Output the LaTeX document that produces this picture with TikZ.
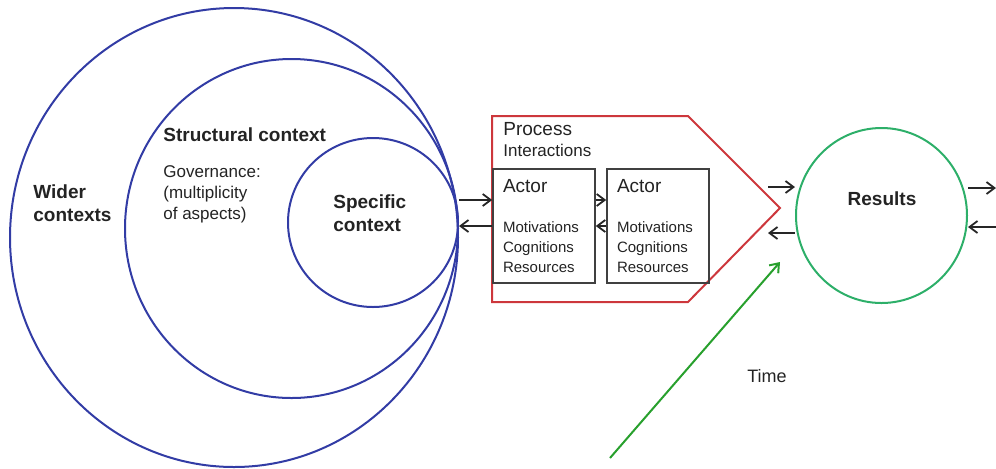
\documentclass[tikz,border=0pt]{standalone}
\usepackage{fontspec}
\setmainfont{Liberation Sans}
\usetikzlibrary{arrows.meta,shapes.geometric}
\definecolor{ringblue}{RGB}{50,60,165}
\definecolor{procred}{RGB}{205,55,60}
\definecolor{resgreen}{RGB}{45,175,105}
\definecolor{timegreen}{RGB}{40,160,45}
\definecolor{txt}{RGB}{35,35,35}
\begin{document}
\begin{tikzpicture}[x=0.5pt,y=-0.5pt,>={Straight Barb[length=4pt,width=6pt]},
	ring/.style={draw=ringblue,line width=1pt,ellipse,inner sep=0pt},
	actor/.style={draw=black!75,line width=0.8pt,minimum width=51pt,minimum height=57pt,
		text width=41pt,inner xsep=5pt,align=left,text=txt,font=\fontsize{7.5}{10}\selectfont},
	link/.style={->,line width=0.9pt,black!85},
	big/.style={font=\fontsize{9.5}{11.5}\selectfont,text=txt,inner sep=0pt,align=left},
	bigb/.style={big,font=\fontsize{9.5}{11.5}\selectfont\bfseries},
	mid/.style={font=\fontsize{8.5}{10.5}\selectfont,text=txt,inner sep=0pt,align=left}]
	\useasboundingbox (0,0) rectangle (996,468);
	% nested contexts
	\node[ring,minimum width=224pt,minimum height=229.5pt] (wider) at (234,237.5) {};
	\node[ring,minimum width=166.5pt,minimum height=169.5pt] (struct) at (291.5,228.5) {};
	\node[ring,minimum width=85pt,minimum height=84.5pt] (spec) at (373,222.5) {};
	\node[bigb,anchor=west] (widert) at (33,203) {Wider\\contexts};
	\node[bigb,anchor=west] (structt) at (163,135) {Structural context};
	\node[mid,anchor=west] (gov) at (163,194) {Governance:\\(multiplicity\\of aspects)};
	\node[bigb,anchor=west] (spect) at (333,213) {Specific\\context};
	% process
	\draw[procred,line width=1pt] (492,116) -- (688,116) -- (780,208) -- (688,302) -- (492,302) -- cycle;
	\node[big,anchor=west] (proc) at (503,129) {Process};
	\node[mid,anchor=west] (inter) at (503,150) {Interactions};
	\node[actor] (actA) at (544,226) {{\fontsize{9.5}{11}\selectfont Actor}\\[10pt]
		Motivations\\Cognitions\\Resources};
	\node[actor] (actB) at (658,226) {{\fontsize{9.5}{11}\selectfont Actor}\\[10pt]
		Motivations\\Cognitions\\Resources};
	% results
	\node[draw=resgreen,line width=1pt,ellipse,minimum width=85.5pt,minimum height=87.5pt,inner sep=0pt] (res) at (881.5,215.5) {};
	\node[bigb] (rest) at (882,199) {Results};
	\coordinate (pout) at (768,187);
	\coordinate (pin) at (768,233);
	\coordinate (rout) at (996,188);
	\coordinate (rin) at (996,227);
	% arrows
	\draw[link] (spec.east |- 0,200) -- (actA.west |- 0,200);
	\draw[link] (actA.west |- 0,226) -- (spec.east |- 0,226);
	\draw[link] (actA.east |- 0,200) -- (actB.west |- 0,200);
	\draw[link] (actB.west |- 0,226) -- (actA.east |- 0,226);
	\draw[link] (pout) -- (res.west |- pout);
	\draw[link] (res.west |- pin) -- (pin);
	\draw[link] (res.east |- rout) -- (rout);
	\draw[link] (rin) -- (res.east |- rin);
	% time
	\coordinate (t0) at (610,458);
	\coordinate (t1) at (780,262);
	\draw[->,timegreen,line width=1pt] (t0) -- (t1);
	\node[font=\fontsize{9}{11}\selectfont,text=txt] (time) at (767,376) {Time};
\end{tikzpicture}
\end{document}
